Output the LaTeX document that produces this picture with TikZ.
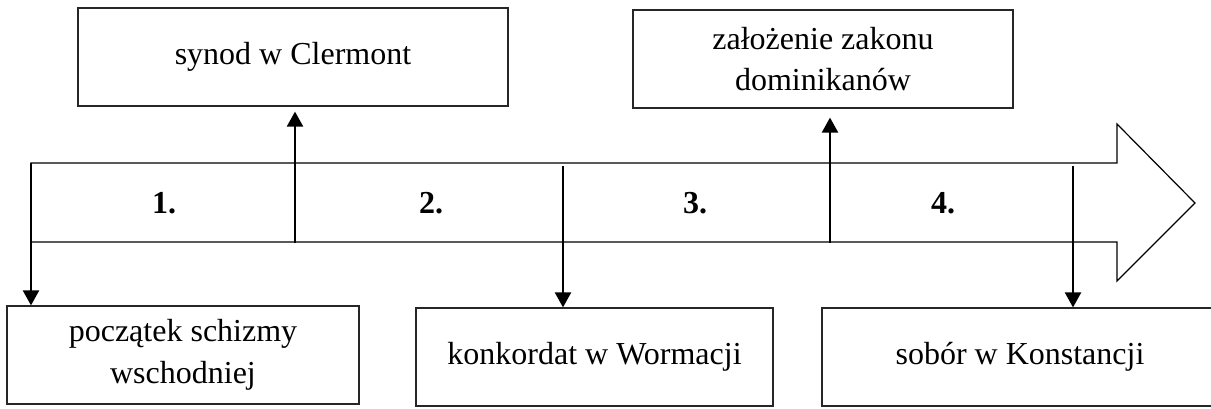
\documentclass[tikz,border=0pt]{standalone}
\usepackage{fontspec}
\setmainfont{Liberation Serif}
\usetikzlibrary{arrows.meta,positioning}

\tikzset{
  eventbox/.style={draw=black!85,line width=0.6pt,minimum height=49pt,inner sep=0pt,
    align=center,font=\fontsize{16}{20.8}\selectfont},
  period/.style={font=\fontsize{16}{20.8}\selectfont\bfseries},
  pointer/.style={line width=1.1pt,-{Triangle[width=8pt,length=7.5pt]}},
}

\begin{document}
\begin{tikzpicture}[x=0.5pt,y=-0.5pt]
    \useasboundingbox (0,0) rectangle (1211,408);
    % the time line
    \draw[line width=0.6pt] (31,163) -- (1117,163) -- (1117,124) -- (1195,203)
        -- (1117,281) -- (1117,242) -- (31,242) -- cycle;
    \node (p1) at (164,203) [period] {1.};
    \node (p2) at (431,203) [period] {2.};
    \node (p3) at (695,203) [period] {3.};
    \node (p4) at (943,203) [period] {4.};
    % events above
    \node (synod) at (293,57) [eventbox,minimum width=215pt] {synod w Clermont};
    \node (zakon) at (823,59) [eventbox,minimum width=190pt] {założenie zakonu\\dominikanów};
    % events below
    \node (schizma) at (183,355) [eventbox,minimum width=176pt] {początek schizmy\\wschodniej};
    \node (worms) at (594.5,357) [eventbox,minimum width=178.5pt] {konkordat w Wormacji};
    \node (sobor) at (1020,357) [eventbox,minimum width=198pt] {sobór w Konstancji};
    % points on the time line
    \coordinate (t1) at (31,163);
    \coordinate (t2) at (295,243);
    \coordinate (t3) at (563,166);
    \coordinate (t4) at (830,243);
    \coordinate (t5) at (1073,166);
    \draw[pointer] (t1) -- (t1 |- schizma.north);
    \draw[pointer,shorten >=2.5pt] (t2) -- (t2 |- synod.south);
    \draw[pointer] (t3) -- (t3 |- worms.north);
    \draw[pointer,shorten >=4.5pt] (t4) -- (t4 |- zakon.south);
    \draw[pointer] (t5) -- (t5 |- sobor.north);
\end{tikzpicture}
\end{document}
